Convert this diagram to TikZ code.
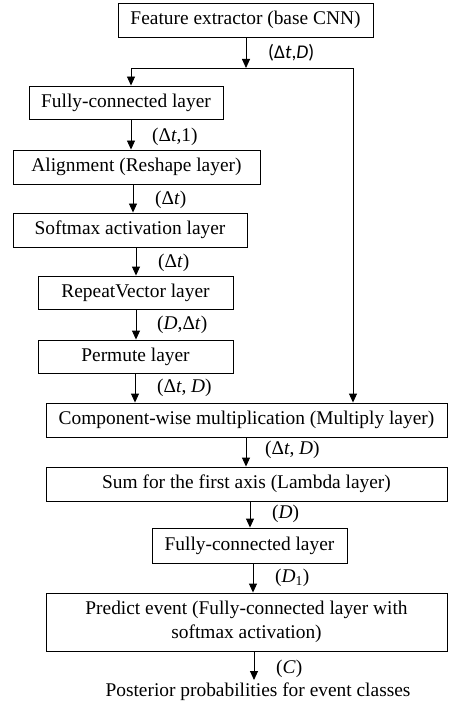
\documentclass[tikz,border=0pt]{standalone}
\usepackage{fontspec}
\setmainfont{Liberation Serif}
\newfontfamily\calib{Carlito}
\usetikzlibrary{arrows.meta}
\begin{document}
\begin{tikzpicture}[x=1pt,y=1pt,
  font=\fontsize{19.4}{24}\selectfont,
  box/.style={draw, line width=0.9pt, inner sep=0pt, align=center},
  arr/.style={line width=0.9pt, -{Triangle[length=9pt,width=8pt]}},
  lab/.style={anchor=west, inner sep=0pt}]
\useasboundingbox (0,0) rectangle (449,-708);
\node[box, minimum width=255, minimum height=34] (b1) at (245.5,-20) {Feature extractor (base CNN)};
\node[box, minimum width=194, minimum height=33] (b2) at (126,-102.5) {Fully-connected layer};
\node[box, minimum width=247, minimum height=34] (b3) at (136.5,-167) {Alignment (Reshape layer)};
\node[box, minimum width=234, minimum height=34] (b4) at (130,-230) {Softmax activation layer};
\node[box, minimum width=195, minimum height=33] (b5) at (135.5,-292.5) {RepeatVector layer};
\node[box, minimum width=195, minimum height=33] (b6) at (135.5,-356.5) {Permute layer};
\node[box, minimum width=401, minimum height=34] (b7) at (246.5,-420) {Component-wise multiplication (Multiply layer)};
\node[box, minimum width=401, minimum height=34] (b8) at (246.5,-484) {Sum for the first axis (Lambda layer)};
\node[box, minimum width=195, minimum height=35] (b9) at (249.5,-545.5) {Fully-connected layer};
\node[box, minimum width=401, minimum height=58] (b10) at (246.5,-622) {Predict event (Fully-connected layer with\\softmax activation)};
\node[inner sep=0pt] (out) at (258,-692) {Posterior probabilities for event classes};

\coordinate (split) at (246,-68);
\coordinate (lx) at (131,0);
\coordinate (rx) at (353,0);
\coordinate (x3) at (133,0);
\coordinate (x4) at (136,0);
\coordinate (x6) at (135,0);
\coordinate (x7) at (246,0);
\coordinate (x8) at (250,0);
\coordinate (x9) at (253,0);
\coordinate (x10) at (254,0);
\coordinate (outtop) at (254,-680);

\draw[arr] (b1.south -| split) -- (split);
\draw[arr] (split) -| (b2.north -| lx);
\draw[arr] (split) -| (b7.north -| rx);
\draw[arr] (b2.south -| lx) -- (b3.north -| lx);
\draw[arr] (b3.south -| x3) -- (b4.north -| x3);
\draw[arr] (b4.south -| x4) -- (b5.north -| x4);
\draw[arr] (b5.south -| x4) -- (b6.north -| x4);
\draw[arr] (b6.south -| x6) -- (b7.north -| x6);
\draw[arr] (b7.south -| x7) -- (b8.north -| x7);
\draw[arr] (b8.south -| x8) -- (b9.north -| x8);
\draw[arr] (b9.south -| x9) -- (b10.north -| x9);
\draw[arr] (b10.south -| x10) -- (outtop);

\node[lab] (l1) at (268,-53) {\calib(Δ\textit{t},\textit{D})};
\node[lab] (l2) at (152,-137) {(Δ\textit{t},1)};
\node[lab] (l3) at (155,-200) {(Δ\textit{t})};
\node[lab] (l4) at (158,-263) {(Δ\textit{t})};
\node[lab] (l5) at (157,-325) {(\textit{D},Δ\textit{t})};
\node[lab] (l6) at (157,-388) {(Δ\textit{t}, \textit{D})};
\node[lab] (l7) at (265,-450) {(Δ\textit{t}, \textit{D})};
\node[lab] (l8) at (272,-514) {(\textit{D})};
\node[lab] (l9) at (275,-578) {(\textit{D}\textsubscript{1})};
\node[lab] (l10) at (276,-669) {(\textit{C})};
\end{tikzpicture}
\end{document}
